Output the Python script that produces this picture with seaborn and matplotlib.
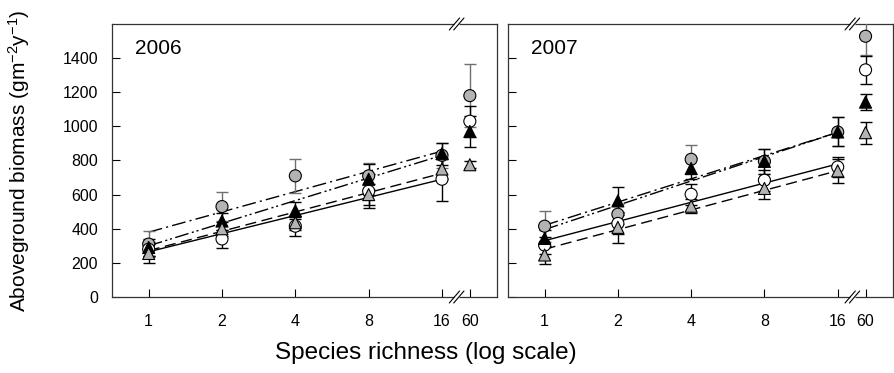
import numpy as np
import pandas as pd
import matplotlib
matplotlib.use('Agg')
import matplotlib.pyplot as plt
import seaborn as sns

# DATI
richness = [1, 2, 4, 8, 16, 60]
tick_labels = ['1', '2', '4', '8', '16', '60']
years = ['2006', '2007']
treatments = ['gc', 'oc', 'bt', 'gt']   # grey circle, open circle, black triangle, grey triangle

# 2006 means / errors
gc_06 = [310, 530, 710, 710, 830, 1180]
gc_06_err = [75, 85, 100, 75, 75, 185]
oc_06 = [280, 340, 415, 620, 690, 1030]
oc_06_err = [40, 50, 55, 100, 125, 90]
bt_06 = [290, 445, 505, 690, 840, 970]
bt_06_err = [50, 50, 50, 90, 65, 90]
gt_06 = [255, 400, 435, 600, 750, 775]
gt_06_err = [55, 40, 40, 60, 60, 20]

# 2007 means / errors
gc_07 = [415, 485, 807, 795, 967, 1528]
gc_07_err = [90, 60, 85, 75, 85, 110]
oc_07 = [304, 431, 602, 684, 762, 1331]
oc_07_err = [50, 60, 60, 60, 60, 80]
bt_07 = [343, 563, 753, 795, 967, 1142]
bt_07_err = [50, 80, 60, 75, 85, 45]
gt_07 = [246, 408, 532, 636, 739, 963]
gt_07_err = [50, 90, 40, 60, 70, 65]

# regression lines (value at richness 1 and 16)
fit_06 = {'gc': [380, 855], 'oc': [265, 690], 'bt': [300, 830], 'gt': [272, 725]}
fit_07 = {'gc': [420, 965], 'oc': [330, 780], 'bt': [395, 965], 'gt': [280, 740]}

means = {'2006': [gc_06, oc_06, bt_06, gt_06], '2007': [gc_07, oc_07, bt_07, gt_07]}
errs = {'2006': [gc_06_err, oc_06_err, bt_06_err, gt_06_err],
        '2007': [gc_07_err, oc_07_err, bt_07_err, gt_07_err]}
fits = {'2006': fit_06, '2007': fit_07}

# STILE
sns.set_style('ticks')
plt.rcParams['font.family'] = ['Liberation Sans', 'DejaVu Sans']
plt.rcParams['mathtext.default'] = 'regular'
for k in ['text.color', 'axes.labelcolor', 'xtick.color', 'ytick.color']:
    plt.rcParams[k] = 'black'

grey = '#b3b3b3'
palette = {'gc': grey, 'oc': 'white', 'bt': 'black', 'gt': grey}
markers = {'gc': 'o', 'oc': 'o', 'bt': '^', 'gt': '^'}
ecolors = {'gc': '#707070', 'oc': 'black', 'bt': 'black', 'gt': 'black'}
lstyles = {'gc': (0, (10, 3, 1.5, 3)), 'oc': '-', 'bt': (0, (10, 2.5, 1.5, 2, 1.5, 2.5)), 'gt': (0, (8, 4))}

# posizione sull'asse x: log2 fino a 16, poi 60 dopo l'interruzione
gap = 0.38
xpos = np.append(np.log2(richness[:5]), np.log2(16) + gap)
brk = np.log2(16) + 0.2

fig = plt.figure(figsize=(8.94, 3.73), dpi=100)
ax1 = fig.add_axes([0.1253, 0.2038, 0.4306, 0.7319])
ax2 = fig.add_axes([0.5682, 0.2038, 0.4303, 0.7319])

for ax, yr in zip([ax1, ax2], years):
    rows = []
    for t, m, e in zip(treatments, means[yr], errs[yr]):
        for x, v, ee in zip(xpos, m, e):
            rows.append({'x': x, 'y': v, 'err': ee, 'trt': t})
    df = pd.DataFrame(rows)

    # linee di regressione
    for t in ['oc', 'gt', 'bt', 'gc']:
        ends = fits[yr][t]
        ax.plot([0, np.log2(16)], ends, color='black', lw=1.0, linestyle=lstyles[t], zorder=2)

    # barre di errore
    for t in treatments:
        d = df[df.trt == t]
        ax.errorbar(d.x, d.y, yerr=d.err, fmt='none', ecolor=ecolors[t], elinewidth=1.0,
                    capsize=4, capthick=1.0, zorder=3)

    # punti
    sns.scatterplot(data=df, x='x', y='y', hue='trt', style='trt', hue_order=treatments,
                    palette=palette, markers=markers, s=75, edgecolor='black', linewidth=0.8,
                    legend=False, ax=ax, zorder=4)

    ax.set_xlim(-0.5, 4.75)
    ax.set_ylim(0, 1600)
    ax.set_xticks(xpos)
    ax.set_xticklabels(tick_labels)
    ax.set_yticks(np.arange(0, 1401, 200))
    ax.tick_params(axis='x', pad=12)
    ax.tick_params(axis='y', pad=10)
    ax.tick_params(direction='in', length=6, labelsize=11.5, width=0.8)
    ax.set_xlabel('')
    ax.set_ylabel('')
    for s in ax.spines.values():
        s.set_linewidth(0.9)
        s.set_color('#333333')
    ax.text(0.06, 0.91, yr, transform=ax.transAxes, fontsize=15, va='center', ha='left')

    # segni di interruzione //
    tr = ax.get_xaxis_transform()
    for yb in [0, 1]:
        ax.plot([brk - 0.03, brk + 0.03], [yb, yb], color='white', lw=2.5, transform=tr,
                clip_on=False, zorder=10, solid_capstyle='butt')
        for off in [-0.03, 0.03]:
            ax.plot([brk + off - 0.07, brk + off + 0.07], [yb - 0.022, yb + 0.022], color='black',
                    lw=0.8, transform=tr, clip_on=False, zorder=11)

ax2.set_yticklabels([])

fig.text(426 / 894, 1 - 353 / 373, 'Species richness (log scale)', ha='center', va='center', fontsize=17.5)
fig.text(19 / 894, 1 - 161 / 373, 'Aboveground biomass (gm$^{-2}$y$^{-1}$)', rotation=90,
         ha='center', va='center', fontsize=15)

plt.savefig('out.png', dpi=100)
